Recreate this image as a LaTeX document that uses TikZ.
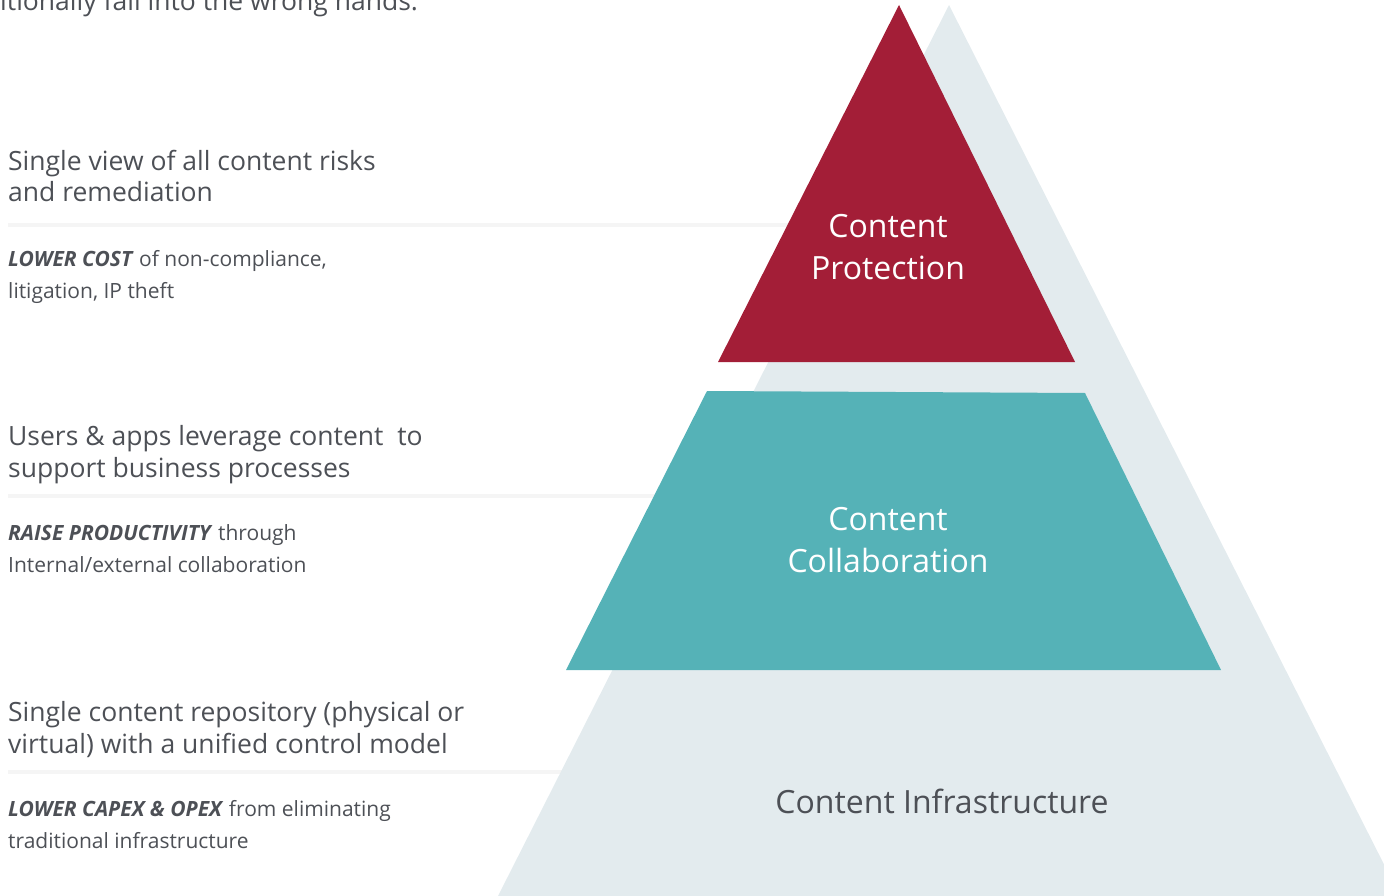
\documentclass[tikz,border=0pt]{standalone}
\usepackage{fontspec}
\setmainfont{Open Sans}
\usetikzlibrary{positioning}
\definecolor{txtgray}{RGB}{77,80,86}
\definecolor{protred}{RGB}{163,30,55}
\definecolor{collteal}{RGB}{85,178,183}
\definecolor{infragray}{RGB}{227,235,238}
\definecolor{rulegray}{RGB}{245,245,245}
\tikzset{head/.style={anchor=base west, inner sep=0, align=left, text=txtgray, font=\fontsize{26.5}{32}\selectfont}}
\tikzset{sub/.style={anchor=base west, inner sep=0, align=left, text=txtgray, font=\fontsize{21}{32}\selectfont}}
\tikzset{tier/.style={inner sep=0, align=center, font=\fontsize{32}{42}\selectfont}}
\tikzset{rule/.style={draw=rulegray, line width=4}}
\newcommand{\kw}[1]{\textbf{\textit{#1}}}
\begin{document}
\begin{tikzpicture}[x=1pt,y=-1pt]
	\useasboundingbox (0,0) rectangle (1384,896);
	% separators, behind the pyramid
	\draw[rule] (8,225) -- (900,225);
	\draw[rule] (8,496) -- (760,496);
	\draw[rule] (8,772) -- (700,772);
	% pyramid
	\fill[infragray] (949,5) -- (498,896) -- (1400,896) -- cycle;
	\fill[protred] (899,5) -- (718,362) -- (1075,362) -- cycle;
	\fill[collteal] (707,391) -- (1085,393) -- (1221,670) -- (566,670) -- cycle;
	\node[tier, text=white] (prot) at (888,247) {Content\\Protection};
	\node[tier, text=white] (coll) at (888,540) {Content\\Collaboration};
	\node[tier, text=txtgray] (infra) at (942,801) {Content Infrastructure};
	% side texts (base = last line)
	\node[head] (intro) at (0,11) {itionally fall into the wrong hands.};
	\node[head] (risk) at (8,202) {Single view of all content risks\\and remediation};
	\node[sub] (cost) at (8,298) {\kw{LOWER COST} of non-compliance,\\litigation, IP theft};
	\node[head] (apps) at (8,477) {Users \& apps leverage content\ \ to\\support business processes};
	\node[sub] (prod) at (8,572) {\kw{RAISE PRODUCTIVITY} through\\Internal/external collaboration};
	\node[head] (repo) at (8,753) {Single content repository (physical or\\virtual) with a unified control model};
	\node[sub] (capex) at (8,848) {\kw{LOWER CAPEX \& OPEX} from eliminating\\traditional infrastructure};
\end{tikzpicture}
\end{document}
